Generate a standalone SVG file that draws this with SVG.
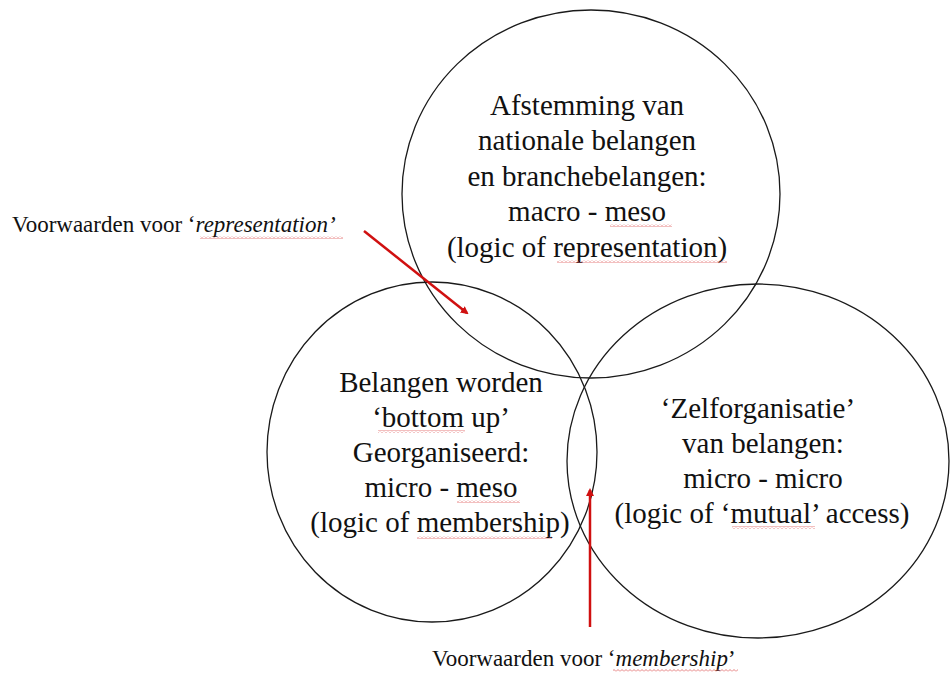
<svg xmlns="http://www.w3.org/2000/svg" width="950" height="673" viewBox="0 0 950 673">
<style>
.c{fill:none;stroke:#1a1a1a;stroke-width:1.3}
.t{font-family:"Liberation Serif","Times New Roman",serif;font-size:29px;fill:#111;text-anchor:middle}
.l{font-family:"Liberation Serif","Times New Roman",serif;font-size:23px;fill:#111}
.a{stroke:#d01010;stroke-width:2.5;fill:none}
.w{fill:url(#wave)}
</style>
<defs>
<marker id="ah" markerWidth="8" markerHeight="8" refX="6" refY="4" orient="auto" markerUnits="userSpaceOnUse">
<path d="M0,0 L8,4 L0,8 Z" fill="#d01010"/>
</marker>
<pattern id="wave" width="4" height="3" patternUnits="userSpaceOnUse">
<polyline points="0,2.5 2,0.5 4,2.5" fill="none" stroke="#e06060" stroke-width="0.8"/>
</pattern>
</defs>
<rect width="950" height="673" fill="#fff"/>
<g id="top">
<ellipse class="c" cx="591" cy="194" rx="189" ry="184"/>
<text class="t" x="587" y="115">Afstemming van</text>
<text class="t" x="587" y="150">nationale belangen</text>
<text class="t" x="587" y="186">en branchebelangen:</text>
<text class="t" x="587" y="221">macro - meso</text>
<text class="t" x="587" y="257">(logic of representation)</text>
<rect class="w" x="610" y="224" width="62" height="3"/>
<rect class="w" x="557" y="260" width="170" height="3"/>
</g>
<g id="left">
<ellipse class="c" cx="432" cy="452" rx="165" ry="170"/>
<text class="t" x="441" y="392">Belangen worden</text>
<text class="t" x="441" y="427">‘bottom up’</text>
<text class="t" x="441" y="462">Georganiseerd:</text>
<text class="t" x="441" y="497">micro - meso</text>
<text class="t" x="440" y="532">(logic of membership)</text>
<rect class="w" x="378" y="430" width="87" height="3"/>
<rect class="w" x="457" y="500" width="63" height="3"/>
<rect class="w" x="417" y="536" width="135" height="3"/>
</g>
<g id="right">
<ellipse class="c" cx="758" cy="461" rx="191" ry="177"/>
<text class="t" x="758" y="418">‘Zelforganisatie’</text>
<text class="t" x="763" y="453">van belangen:</text>
<text class="t" x="763" y="488">micro - micro</text>
<text class="t" x="762" y="523">(logic of ‘mutual’ access)</text>
<rect class="w" x="732" y="526" width="83" height="3"/>
</g>
<g id="label-representation">
<text class="l" x="12" y="232">Voorwaarden voor ‘<tspan font-style="italic">representation’</tspan></text>
<rect class="w" x="200" y="236" width="143" height="3"/>
</g>
<g id="label-membership">
<text class="l" x="432" y="666">Voorwaarden voor ‘<tspan font-style="italic">membership</tspan>’</text>
<rect class="w" x="613" y="669" width="125" height="3"/>
</g>
<g id="connectors">
<line class="a" x1="364" y1="231" x2="467" y2="313" marker-end="url(#ah)"/>
<line class="a" x1="590" y1="627" x2="590" y2="490" marker-end="url(#ah)"/>
</g>
</svg>
